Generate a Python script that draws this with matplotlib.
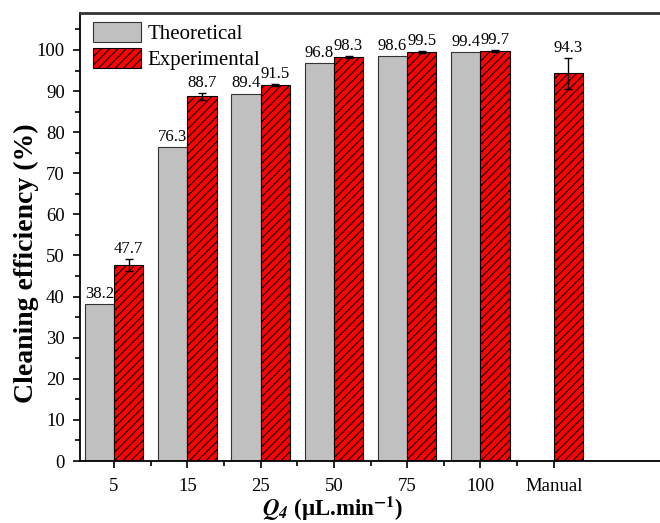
import numpy as np
import matplotlib
matplotlib.use("Agg")
import matplotlib.pyplot as plt

plt.rcParams['font.family'] = ['Liberation Serif', 'DejaVu Serif']
plt.rcParams['mathtext.fontset'] = 'stix'
plt.rcParams['hatch.linewidth'] = 0.8

categories = ['5', '15', '25', '50', '75', '100', 'Manual']
theoretical = [38.2, 76.3, 89.4, 96.8, 98.6, 99.4, np.nan]
experimental = [47.7, 88.7, 91.5, 98.3, 99.5, 99.7, 94.3]
exp_err = [1.5, 0.9, 0.3, 0.3, 0.3, 0.2, 3.7]

fig = plt.figure(figsize=(6.6, 5.23), dpi=100)
ax = fig.add_axes([80/660, 62/523, 591/660, 448/523])

x = np.arange(len(categories))
w = 0.4
ax.bar(x - w/2, theoretical, width=w, color='#C0C0C0', edgecolor='#333333',
       linewidth=0.8, label='Theoretical')
ax.bar(x + w/2, experimental, width=w, color='#FF0000', edgecolor='black',
       linewidth=0.8, hatch='////', label='Experimental',
       yerr=exp_err, error_kw=dict(ecolor='black', elinewidth=1, capsize=3, capthick=1))

for xi, v in zip(x, theoretical):
    if not np.isnan(v):
        ax.annotate(f'{v:.1f}', (xi - w/2, v), xytext=(0, 1.5), textcoords='offset points',
                    ha='center', va='bottom', fontsize=12)
for xi, v, e in zip(x, experimental, exp_err):
    ax.annotate(f'{v:.1f}', (xi + w/2, v + e), xytext=(0, 1.5), textcoords='offset points',
                ha='center', va='bottom', fontsize=12)

ax.set_xlim(-0.464, 7.6)
ax.set_ylim(0, 109)
ax.set_xticks(x)
ax.set_xticklabels(categories)
ax.set_xticks(x[:-1] + 0.5, minor=True)
ax.set_yticks(np.arange(0, 101, 10))
ax.set_yticks(np.arange(5, 106, 10), minor=True)
ax.tick_params(axis='both', which='major', direction='out', length=5, width=1.2,
               labelsize=13.5, pad=6)
ax.tick_params(axis='both', which='minor', direction='out', length=3.5, width=1.2)
ax.tick_params(axis='x', which='major', pad=7)

for s in ['left', 'bottom']:
    ax.spines[s].set_linewidth(1.3)
    ax.spines[s].set_color('black')
ax.spines['top'].set_linewidth(2)
ax.spines['top'].set_color('#333333')
ax.spines['right'].set_visible(False)

fig.text(26/660, 1 - 263/523, 'Cleaning efficiency (%)', rotation=90,
         ha='center', va='center', fontsize=20, fontweight='bold')
fig.text(333/660, 1 - 509/523,
         r'$\mathbfit{Q}_{\mathbfit{4}}$ (µL.min$^{\mathbf{-1}}$)',
         ha='center', va='center', fontsize=16.5, fontweight='bold')

leg = ax.legend(loc='upper left', bbox_to_anchor=(93/660, 1 - 22/523),
                bbox_transform=fig.transFigure, frameon=False, fontsize=15,
                handlelength=2.3, handleheight=1.1, handletextpad=0.3,
                labelspacing=0.2, borderpad=0, borderaxespad=0)

fig.savefig('out.png', dpi=100)
